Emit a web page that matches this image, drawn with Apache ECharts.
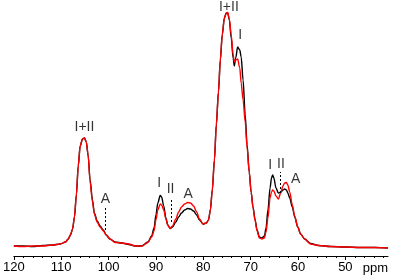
<!DOCTYPE html>
<html>
<head>
<meta charset="utf-8">
<script src="https://cdn.jsdelivr.net/npm/echarts@6/dist/echarts.min.js"></script>
<style>
  html, body { margin: 0; padding: 0; background: #fff; }
  #nmr { width: 394px; height: 276px; }
</style>
</head>
<body>
<div id="nmr"></div>
<script>
// chemical shift (ppm) and intensities
var ppm = [120.0, 118.1, 116.0, 113.9, 111.8, 110.2, 109.1, 108.5, 108.05, 107.6, 107.2, 106.8, 106.4, 106.0, 105.5, 105.1, 104.7, 104.3, 103.9, 103.4,
    103.0, 102.4, 101.8, 101.1, 100.5, 99.7, 98.6, 97.2, 95.7, 94.4, 93.0, 91.7, 90.9, 90.4, 90.0, 89.6, 89.1, 88.8, 88.35, 87.9,
    87.5, 87.0, 86.5, 85.8, 85.2, 84.6, 83.95, 83.3, 82.7, 82.05, 81.4, 80.8, 80.05, 79.35, 78.9, 78.5, 78.1, 77.65, 77.25, 76.8,
    76.4, 76.0, 75.55, 75.15, 74.85, 74.5, 74.1, 73.7, 73.45, 73.15, 72.75, 72.3, 72.0, 71.6, 71.15, 70.75, 70.3, 69.9, 69.5, 69.05,
    68.65, 68.15, 67.6, 67.1, 66.75, 66.35, 65.9, 65.6, 65.35, 65.1, 64.65, 64.15, 63.6, 63.2, 62.8, 62.45, 62.15, 61.75, 61.2, 60.7,
    60.05, 59.45, 58.6, 57.35, 55.65, 53.15, 50.0, 46.85, 43.7, 41.0];
var blackSpec = [10, 10, 9.5, 10.5, 11, 12, 14, 17, 21, 27, 39, 61, 90, 110, 117, 118, 114, 100, 76, 56,
    43, 35, 30, 26, 21, 17, 14, 13, 11.5, 10, 10, 14, 20, 28, 41, 53, 60.5, 59, 50, 38,
    31, 27.5, 29, 34, 39, 43, 46, 47.5, 47, 45, 41, 36, 32, 33, 36, 46, 66, 96, 131, 164,
    196, 221, 238, 243, 243, 236, 218, 198, 190, 198, 209, 206, 199, 176, 141, 111, 84, 64, 49, 36,
    26, 19, 18, 20, 28, 46, 68, 78, 81, 78, 68, 63, 64, 66, 67, 66, 63, 58, 49, 39,
    29, 22, 17, 12.5, 10.5, 9.5, 9, 8.5, 8.5, 8];
var redSpec = [10, 9.5, 10, 10, 11, 12, 14, 17, 21, 27, 39, 61, 90, 110, 117, 118, 114, 100, 74, 54,
    42, 34, 29, 25, 21, 17, 13.5, 13, 12, 10, 10, 13.5, 19, 25, 36, 46, 52, 51, 46, 37,
    31, 27.5, 30, 37, 44, 49, 52, 53.5, 53, 50, 44, 37, 32, 33, 36, 46, 66, 96, 131, 164,
    196, 221, 238, 243, 243.5, 237, 221, 201, 194, 196, 197, 188, 173, 156, 134, 108, 84, 64, 48, 35,
    25, 18, 17, 18, 24, 38, 58, 64, 66, 65, 60, 57, 64, 70, 73, 73.5, 71, 64, 51, 40,
    29, 22, 17, 12, 10.5, 9.5, 9, 8.5, 8.5, 8];

var majorTicks = [120, 110, 100, 90, 80, 70, 60, 50];
var minorTicks = [118, 116, 114, 112, 108, 106, 104, 102, 98, 96, 94, 92, 88, 86, 84, 82,
    78, 76, 74, 72, 68, 66, 64, 62, 58, 56, 54, 52, 48, 46, 44, 42];

// peak assignments: text, ppm, height
var peakText = ['I+II', 'A', 'I', 'II', 'A', 'I+II', 'I', 'I', 'II', 'A'];
var peakPpm = [105.1, 100.65, 89.3, 86.9, 83.2, 74.6, 72.2, 65.9, 63.6, 60.5];
var peakHeight = [129, 57, 73, 67, 62, 249, 221, 91, 92, 77];

// dashed guide lines: ppm, from, to
var guidePpm = [100.65, 86.8, 63.8];
var guideFrom = [26, 34, 63];
var guideTo = [49, 58, 84];

function pairs(xs, ys) {
    return xs.map(function (x, i) { return [x, ys[i]]; });
}

var myChart = echarts.init(document.getElementById('nmr'));

var font = 'Liberation Sans, Arial, sans-serif';

var option = {
    animation: false,
    grid: { left: 11, right: 6, top: 0, bottom: 20 },
    xAxis: [
        {
            type: 'value',
            inverse: true,
            min: 41,
            max: 120,
            position: 'bottom',
            splitLine: { show: false },
            axisLine: { onZero: false, lineStyle: { color: '#000', width: 1 } },
            axisTick: { customValues: majorTicks, length: 4, lineStyle: { color: '#000' } },
            axisLabel: { customValues: majorTicks, color: '#000', fontSize: 13, fontFamily: font, margin: 5 }
        },
        {
            // minor ticks every 2 ppm
            type: 'value',
            inverse: true,
            min: 41,
            max: 120,
            position: 'bottom',
            splitLine: { show: false },
            axisLine: { show: false },
            axisTick: { customValues: minorTicks, length: 2, lineStyle: { color: '#000' } },
            axisLabel: { show: false }
        }
    ],
    yAxis: {
        type: 'value',
        min: 0,
        max: 256,
        show: false
    },
    graphic: [{
        type: 'text',
        right: 6,
        top: 262,
        style: { text: 'ppm', font: '13px ' + font, fill: '#000' }
    }],
    series: [
        {
            name: 'black',
            type: 'line',
            data: pairs(ppm, blackSpec),
            showSymbol: false,
            smooth: 0.3,
            smoothMonotone: 'x',
            lineStyle: { color: '#000', width: 1.4 },
            z: 2
        },
        {
            name: 'red',
            type: 'line',
            data: pairs(ppm, redSpec),
            showSymbol: false,
            smooth: 0.3,
            smoothMonotone: 'x',
            lineStyle: { color: '#ff0000', width: 1.4 },
            z: 3
        },
        {
            name: 'labels',
            type: 'scatter',
            symbolSize: 0,
            silent: true,
            data: peakText.map(function (t, i) {
                return { name: t, value: [peakPpm[i], peakHeight[i]] };
            }),
            label: {
                show: true,
                position: 'inside',
                formatter: '{b}',
                color: '#000',
                fontSize: 14,
                fontFamily: font
            },
            markLine: {
                silent: true,
                symbol: 'none',
                label: { show: false },
                lineStyle: { color: '#000', width: 1, type: [2, 2] },
                data: guidePpm.map(function (p, i) {
                    return [{ coord: [p, guideFrom[i]] }, { coord: [p, guideTo[i]] }];
                })
            },
            z: 4
        }
    ]
};

myChart.setOption(option, true);
window.onresize = myChart.resize;
</script>
</body>
</html>
